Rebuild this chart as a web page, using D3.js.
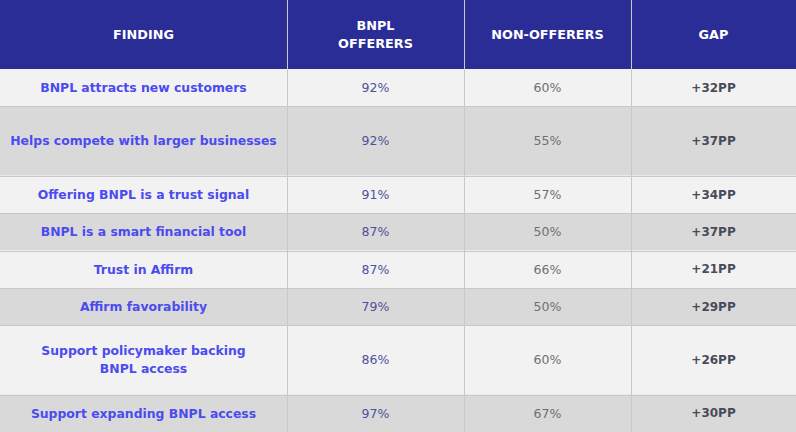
<!DOCTYPE html>
<html>
<head>
<meta charset="utf-8">
<script src="https://cdn.jsdelivr.net/npm/d3@7"></script>
<style>
    body { margin: 0; background: #ffffff; }
    svg { display: block; }
</style>
</head>
<body>
<div id="chart"></div>
<script>
// Table contents
var columns = ['FINDING', 'BNPL\nOFFERERS', 'NON-OFFERERS', 'GAP'];
var findings = [
    'BNPL attracts new customers',
    'Helps compete with larger businesses',
    'Offering BNPL is a trust signal',
    'BNPL is a smart financial tool',
    'Trust in Affirm',
    'Affirm favorability',
    'Support policymaker backing\nBNPL access',
    'Support expanding BNPL access'
];
var offerers = [92, 92, 91, 87, 87, 79, 86, 97];
var nonOfferers = [60, 55, 57, 50, 66, 50, 60, 67];
var gaps = ['+32PP', '+37PP', '+34PP', '+37PP', '+21PP', '+29PP', '+26PP', '+30PP'];

// Layout (kept apart from the data)
var width = 796, height = 432;
var colWidths = [287, 177, 167, 165];
var headerHeight = 69;
var rowUnits = [1, 1.85, 1, 1, 1, 1, 1.85, 1];
var font = '"DejaVu Sans", sans-serif';

var svg = d3.select('#chart')
    .append('svg')
    .attr('width', width)
    .attr('height', height);

var colEdges = [0];
colWidths.forEach(function (w, i) { colEdges.push(colEdges[i] + w); });

// row positions from a linear scale over cumulative units
var cum = [0];
rowUnits.forEach(function (u, i) { cum.push(cum[i] + u); });
var y = d3.scaleLinear().domain([0, cum[cum.length - 1]]).range([headerHeight, height]);

var rows = findings.map(function (f, i) {
    return {
        finding: f,
        offerer: offerers[i] + '%',
        non: nonOfferers[i] + '%',
        gap: gaps[i],
        y0: y(cum[i]),
        y1: y(cum[i + 1]),
        i: i
    };
});

// header
svg.append('rect')
    .attr('x', 0).attr('y', 0)
    .attr('width', width).attr('height', headerHeight)
    .attr('fill', '#2a2d96');

function multiline(sel, text, cx, cy, lh) {
    var lines = text.split('\n');
    lines.forEach(function (l, k) {
        sel.append('text')
            .attr('x', cx)
            .attr('y', cy + (k - (lines.length - 1) / 2) * lh)
            .attr('dy', '0.35em')
            .attr('text-anchor', 'middle')
            .text(l);
    });
}

var header = svg.append('g')
    .attr('fill', '#ffffff')
    .style('font-family', font)
    .style('font-size', '12.8px')
    .style('font-weight', 'bold');
columns.forEach(function (c, j) {
    multiline(header, c, (colEdges[j] + colEdges[j + 1]) / 2, headerHeight / 2, 18);
});

// body rows
var rowG = svg.selectAll('.row')
    .data(rows)
    .enter()
    .append('g')
    .attr('class', 'row');

rowG.append('rect')
    .attr('x', 0)
    .attr('y', function (d) { return d.y0; })
    .attr('width', width)
    .attr('height', function (d) { return d.y1 - d.y0; })
    .attr('fill', function (d) { return d.i % 2 === 0 ? '#f2f2f2' : '#d9d9d9'; });

rowG.each(function (d) {
    var g = d3.select(this);
    var cy = (d.y0 + d.y1) / 2;
    var f = g.append('g')
        .attr('fill', '#4b4bf0')
        .style('font-family', font)
        .style('font-size', '12.4px')
        .style('font-weight', 'bold');
    multiline(f, d.finding, (colEdges[0] + colEdges[1]) / 2, cy, 18);

    g.append('text')
        .attr('x', (colEdges[1] + colEdges[2]) / 2)
        .attr('y', cy).attr('dy', '0.35em')
        .attr('text-anchor', 'middle')
        .attr('fill', '#50509a')
        .style('font-family', font)
        .style('font-size', '12.5px')
        .text(d.offerer);

    g.append('text')
        .attr('x', (colEdges[2] + colEdges[3]) / 2)
        .attr('y', cy).attr('dy', '0.35em')
        .attr('text-anchor', 'middle')
        .attr('fill', '#707070')
        .style('font-family', font)
        .style('font-size', '12.5px')
        .text(d.non);

    g.append('text')
        .attr('x', (colEdges[3] + colEdges[4]) / 2)
        .attr('y', cy).attr('dy', '0.35em')
        .attr('text-anchor', 'middle')
        .attr('fill', '#4a4a5a')
        .style('font-family', font)
        .style('font-size', '12px')
        .style('font-weight', 'bold')
        .text(d.gap);
});

// grid lines
svg.selectAll('.hline')
    .data(rows.slice(1))
    .enter()
    .append('line')
    .attr('x1', 0).attr('x2', width)
    .attr('y1', function (d) { return Math.round(d.y0) + 0.5; })
    .attr('y2', function (d) { return Math.round(d.y0) + 0.5; })
    .attr('stroke', '#c8c8c8');

svg.selectAll('.vline')
    .data(colEdges.slice(1, -1))
    .enter()
    .append('line')
    .attr('x1', function (d) { return d + 0.5; })
    .attr('x2', function (d) { return d + 0.5; })
    .attr('y1', 0).attr('y2', height)
    .attr('stroke', '#c8c8c8');
</script>
</body>
</html>
